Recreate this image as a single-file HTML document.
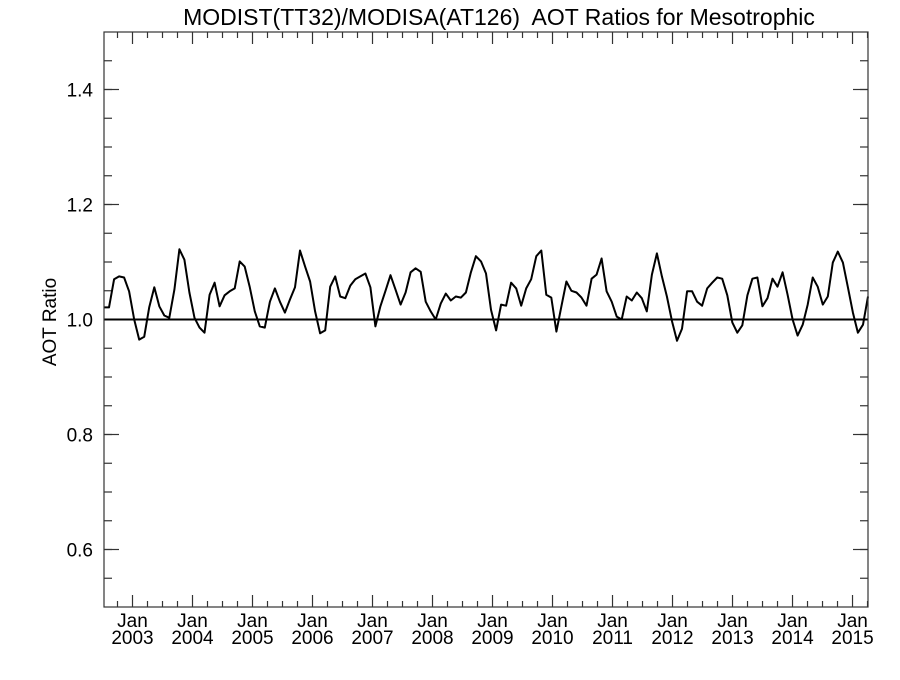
<!DOCTYPE html>
<html><head><meta charset="utf-8"><style>
body{margin:0;background:#fff;}
svg text{font-family:"Liberation Sans",sans-serif;fill:#000;}
</style></head><body>
<svg id="chart" width="900" height="675" xmlns="http://www.w3.org/2000/svg">
<text x="499" y="25" font-size="23" text-anchor="middle" xml:space="preserve" style="white-space:pre">MODIST(TT32)/MODISA(AT126)  AOT Ratios for Mesotrophic</text>
<text transform="translate(56,322) rotate(-90)" font-size="19" text-anchor="middle">AOT Ratio</text>
<g id="ticks"></g>
<line id="ref" stroke="#000" stroke-width="2"/>
<path id="series" fill="none" stroke="#000" stroke-width="2" stroke-linejoin="round"/>
<rect x="104" y="32" width="764" height="575" fill="none" stroke="#333" stroke-width="1.2"/>
</svg>
<script>
const yTickValues=[0.6,0.8,1.0,1.2,1.4];
const yTickLabels=["0.6","0.8","1.0","1.2","1.4"];
const xTickYears=[2003,2004,2005,2006,2007,2008,2009,2010,2011,2012,2013,2014,2015];
const values=[1.021,1.021,1.070,1.075,1.073,1.049,1.000,0.965,0.970,1.021,1.056,1.023,1.007,1.003,1.052,1.122,1.104,1.047,1.003,0.986,0.977,1.043,1.064,1.023,1.042,1.049,1.054,1.101,1.092,1.056,1.014,0.988,0.986,1.031,1.054,1.031,1.012,1.035,1.056,1.120,1.092,1.066,1.014,0.976,0.981,1.057,1.075,1.040,1.037,1.059,1.070,1.075,1.080,1.056,0.988,1.023,1.050,1.077,1.052,1.026,1.047,1.082,1.089,1.083,1.031,1.014,1.000,1.028,1.045,1.033,1.040,1.038,1.047,1.082,1.110,1.101,1.080,1.017,0.981,1.026,1.024,1.064,1.054,1.024,1.054,1.070,1.110,1.120,1.043,1.038,0.979,1.023,1.066,1.050,1.047,1.038,1.024,1.071,1.078,1.106,1.049,1.031,1.005,1.000,1.040,1.033,1.047,1.037,1.014,1.078,1.115,1.075,1.040,0.997,0.963,0.984,1.049,1.049,1.031,1.024,1.054,1.064,1.073,1.071,1.042,0.995,0.977,0.990,1.042,1.071,1.073,1.023,1.037,1.071,1.057,1.082,1.043,1.000,0.972,0.991,1.026,1.073,1.057,1.026,1.040,1.099,1.118,1.099,1.056,1.012,0.977,0.991,1.040];
const refValue=1.0;
const L=104,R=868,T=32,B=607,yMin=0.5,yMax=1.5,tMin=2002.525,tMax=2015.258;
const ns="http://www.w3.org/2000/svg";
const ys=v=>B-(v-yMin)/(yMax-yMin)*(B-T);
const xt=t=>L+(t-tMin)/(tMax-tMin)*(R-L);
const xi=i=>L+i*(R-L)/(values.length-1);
const g=document.getElementById('ticks');
function ln(x1,y1,x2,y2,name){const l=document.createElementNS(ns,'line');
l.setAttribute('x1',x1);l.setAttribute('y1',y1);l.setAttribute('x2',x2);l.setAttribute('y2',y2);
l.setAttribute('stroke','#333');l.setAttribute('stroke-width','1.2');


g.appendChild(l);}
function tx(x,y,s,name){const t=document.createElementNS(ns,'text');
t.setAttribute('x',x);t.setAttribute('y',y);t.setAttribute('font-size','19');t.setAttribute('text-anchor','middle');t.textContent=s;


g.appendChild(t);}
for(let v=0.55;v<1.5;v+=0.05){const y=ys(v);
ln(L,y,L+8,y,'y-tick');ln(R,y,R-8,y,'y-tick-right');}
yTickValues.forEach((v,i)=>{const y=ys(v);ln(L,y,L+15,y,'y-tick-major');ln(R,y,R-15,y,'y-tick-major-right');
const t=document.createElementNS(ns,'text');t.setAttribute('x',L-11);t.setAttribute('y',y+7);t.setAttribute('font-size','19');t.setAttribute('text-anchor','end');t.textContent=yTickLabels[i];


g.appendChild(t);});
for(let q=Math.ceil(tMin*4);q<=Math.floor(tMax*4);q++){const t=q/4;const x=xt(t);const major=q%4===0;const len=major?12:6;
ln(x,B,x,B-len,'x-tick');ln(x,T,x,T+len,'x-tick-top');}
xTickYears.forEach(yr=>{const x=xt(yr);tx(x,B+20,'Jan','x-tick-label-month');tx(x,B+37,String(yr),'x-tick-label-year');});
const r=document.getElementById('ref');r.setAttribute('x1',L);r.setAttribute('x2',R);r.setAttribute('y1',ys(refValue));r.setAttribute('y2',ys(refValue));
document.getElementById('series').setAttribute('d',values.map((v,i)=>(i?'L':'M')+xi(i).toFixed(1)+','+ys(v).toFixed(1)).join(''));
</script>
</body></html>
